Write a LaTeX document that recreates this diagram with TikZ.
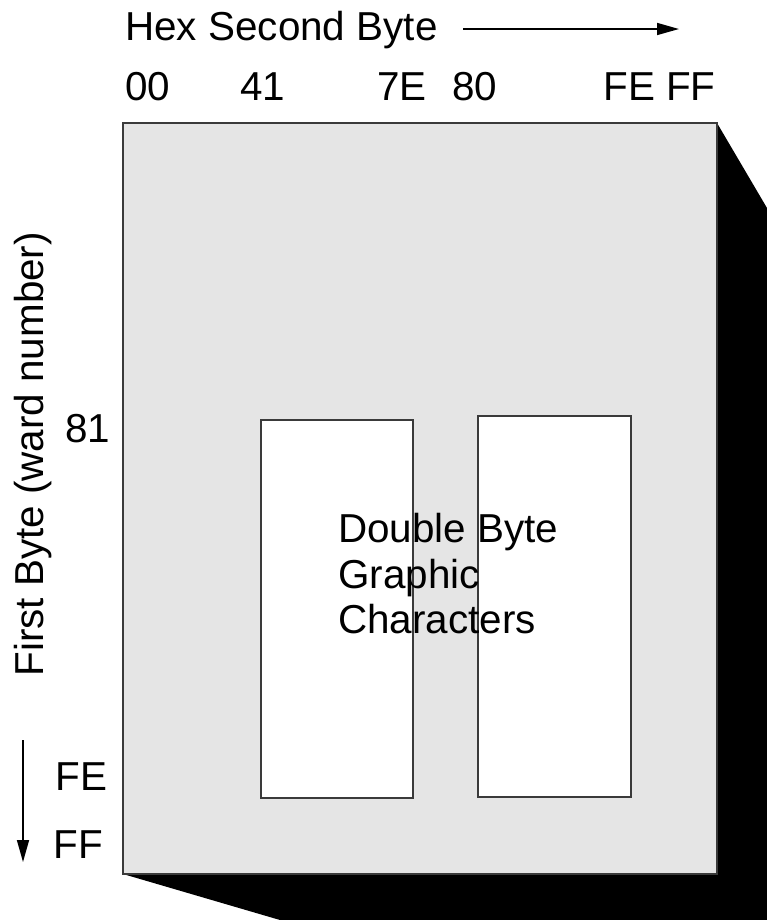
\documentclass[tikz,border=0pt]{standalone}
\usepackage{fontspec}
\setmainfont{Liberation Sans}
\usetikzlibrary{arrows.meta}
\definecolor{fondo}{HTML}{E5E5E5}
\definecolor{borde}{HTML}{3A3A3A}
\begin{document}
\begin{tikzpicture}[x=0.02cm, y=-0.02cm, line join=miter,
  etiq/.style={inner sep=0pt, anchor=base west, font=\fontsize{23}{25.9}\selectfont},
  caja/.style={draw=borde, line width=1.2pt},
  flecha/.style={line width=0.9pt, -{Triangle[length=4.4mm, width=2.4mm]}}]
  \useasboundingbox (0,0) rectangle (767,920);
  % la sombra negra
  \fill[black] (717,123) -- (767,208) -- (767,920) -- (280,920) -- (123,874) -- (717,874) -- cycle;
  % la tabla y las dos zonas de doble byte
  \filldraw[caja, fill=fondo] (123,123) rectangle (717,874);
  \filldraw[caja, fill=white] (261,420) rectangle (413,798);
  \filldraw[caja, fill=white] (478,416) rectangle (631,797);
  \node[etiq, anchor=north west, align=left] (dbcs) at (338,513) {Double Byte\\Graphic\\Characters};
  % eje horizontal, segundo byte
  \node[etiq] (hex) at (125,40) {Hex Second Byte};
  \coordinate (hexa) at (463,29); \coordinate (hexb) at (679,29);
  \draw[flecha] (hexa) -- (hexb);
  \foreach \x/\t/\n in {125/00/a,240/41/b,377/7E/c,452/80/d,603/FE FF/e} {
    \node[etiq] (s\n) at (\x,100) {\t};
  }
  % eje vertical, primer byte
  \node[etiq, rotate=90] (first) at (43,677) {First Byte (ward number)};
  \node[etiq] (f81) at (65,442) {81};
  \node[etiq] (ffe) at (55,790) {FE};
  \node[etiq] (fff) at (53,858) {FF};
  \coordinate (firsta) at (23,740); \coordinate (firstb) at (23,862);
  \draw[flecha] (firsta) -- (firstb);
\end{tikzpicture}
\end{document}
